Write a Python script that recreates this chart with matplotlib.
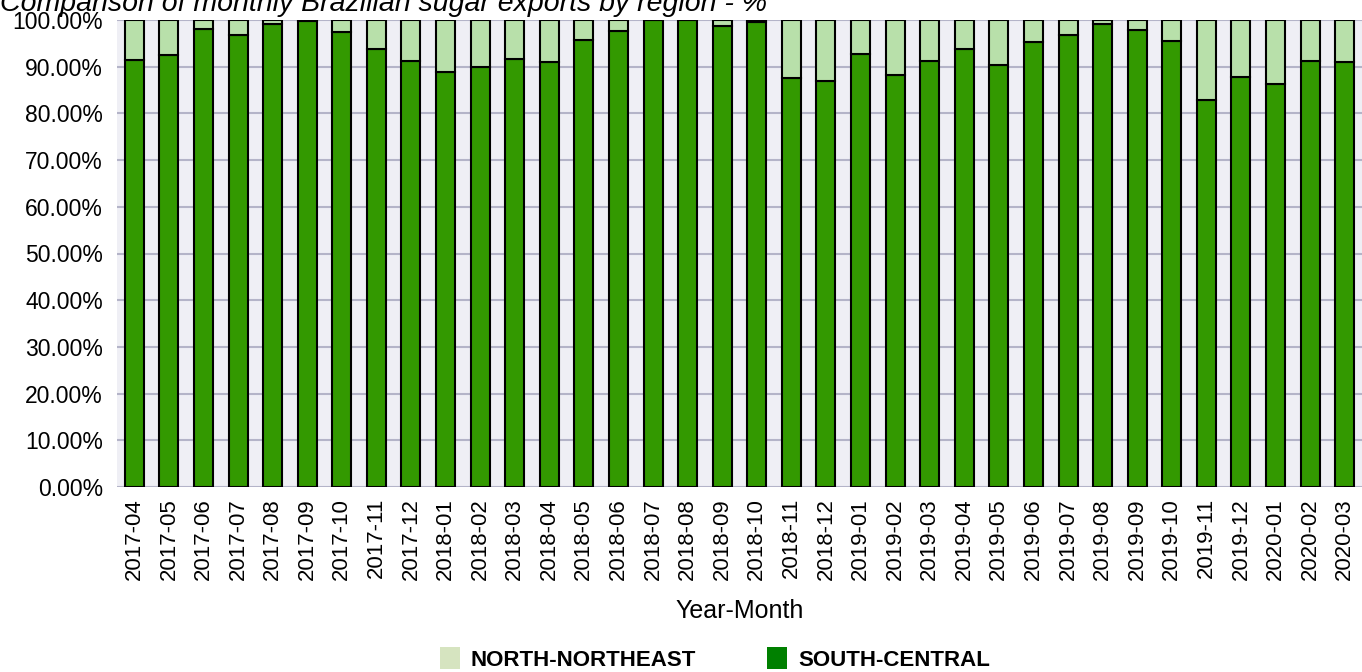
import numpy as np
import matplotlib.pyplot as plt
from matplotlib import font_manager
from matplotlib.patches import Patch
from matplotlib.ticker import FuncFormatter

# monthly share of exports by region (%)
months = ['2017-04', '2017-05', '2017-06', '2017-07', '2017-08', '2017-09',
          '2017-10', '2017-11', '2017-12', '2018-01', '2018-02', '2018-03',
          '2018-04', '2018-05', '2018-06', '2018-07', '2018-08', '2018-09',
          '2018-10', '2018-11', '2018-12', '2019-01', '2019-02', '2019-03',
          '2019-04', '2019-05', '2019-06', '2019-07', '2019-08', '2019-09',
          '2019-10', '2019-11', '2019-12', '2020-01', '2020-02', '2020-03']
south_central = [91.5, 92.5, 98.0, 96.8, 99.1, 99.7, 97.4, 93.7, 91.3, 88.8,
                 90.0, 91.7, 91.1, 95.7, 97.6, 100.0, 100.0, 98.7, 99.6, 87.5,
                 87.0, 92.8, 88.3, 91.2, 93.8, 90.3, 95.2, 96.7, 99.2, 97.8,
                 95.6, 82.9, 87.8, 86.2, 91.2, 91.1]
north_northeast = [100 - v for v in south_central]

plt.rcParams['font.family'] = ['Liberation Sans', 'DejaVu Sans']

# legend uses a narrow bold face if one is around
try:
    font_manager.findfont(font_manager.FontProperties(family='Liberation Sans Narrow'),
                          fallback_to_default=False)
    leg_prop = {'family': 'Liberation Sans Narrow', 'weight': 'bold', 'size': 18}
except ValueError:
    leg_prop = {'family': 'Liberation Sans', 'weight': 'bold', 'size': 16}

fig = plt.figure(figsize=(13.62, 6.72), dpi=100)
ax = fig.add_axes([117 / 1362, 1 - 487 / 672, 1 - 117 / 1362, 467 / 672])
ax.set_facecolor('#efeff5')

x = np.arange(len(months))
ax.bar(x, south_central, width=0.55, color='#339900', edgecolor='black', linewidth=1.5, zorder=3)
ax.bar(x, north_northeast, bottom=south_central, width=0.55, color='#b8e0aa',
       edgecolor='black', linewidth=1.5, zorder=3)

ax.set_xlim(-0.5, len(months) - 0.5)
ax.set_ylim(0, 100)
ax.set_yticks(np.arange(0, 101, 10))
ax.yaxis.set_major_formatter(FuncFormatter(lambda v, p: f'{v:.2f}%'))
ax.set_xticks(x)
ax.set_xticklabels(months, rotation=90, fontsize=16)
ax.tick_params(axis='y', labelsize=16.5, length=0, pad=10)
ax.tick_params(axis='x', length=0, pad=8)
ax.grid(axis='y', color='#b4b4c8', linewidth=1.5, zorder=0)
for s in ax.spines.values():
    s.set_visible(False)

ax.set_xlabel('Year-Month', fontsize=18, labelpad=14)
fig.text(0.0, 1 - 11 / 672, 'Comparison of monthly Brazilian sugar exports by region - %',
         fontsize=20.5, style='italic', ha='left', va='baseline')

handles = [Patch(facecolor='#d6e4c0', edgecolor='none', label='NORTH-NORTHEAST'),
           Patch(facecolor='#008000', edgecolor='none', label='SOUTH-CENTRAL')]
fig.legend(handles=handles, loc='center', bbox_to_anchor=(0.525, 1 - 659 / 672), ncol=2,
           frameon=False, handlelength=0.9, handleheight=1.1, handletextpad=0.5,
           columnspacing=3.2, prop=leg_prop)

fig.savefig('out.png', dpi=100)
